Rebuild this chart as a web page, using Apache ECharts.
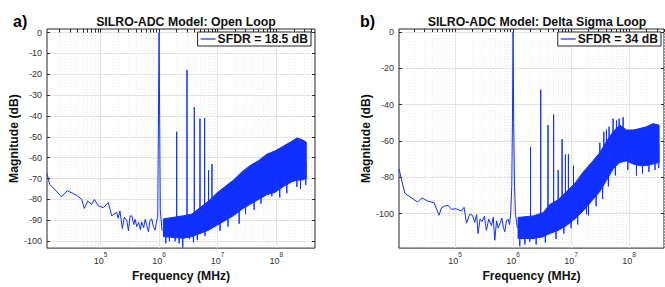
<!DOCTYPE html>
<html>
<head>
<meta charset="utf-8">
<title>SILRO-ADC spectra</title>
<script src="https://cdn.jsdelivr.net/npm/echarts@6/dist/echarts.min.js"></script>
<style>
html, body { margin: 0; padding: 0; background: #ffffff; }
#main { width: 665px; height: 287px; }
</style>
</head>
<body>
<div id="main"></div>
<script>
// ---- a) open loop ----
const aFreqRange = [12200, 4.6e8];
const aMagRange = [-103.3, 1.7];
const aMagTicks = [-100, -90, -80, -70, -60, -50, -40, -30, -20, -10, 0];
// low frequency trace + fundamental
const aLowFreq = [12200, 13550, 21700, 27000, 39200, 47700, 52900, 60400, 70800, 78400, 91700, 111600, 135900, 155300, 189200, 200000, 215000, 236000, 255000, 280600, 300000, 320000, 341500, 370000, 390000, 415600, 450000, 480000, 506000, 545000, 580000, 616000, 660000, 700000, 750000, 800000, 855000, 900000, 950000, 1000000, 1050000, 1125000];
const aLowMag = [-67.5, -72.7, -78.7, -75.8, -78, -80, -84.3, -80.8, -82.3, -80, -83, -83.9, -81.5, -87.8, -86.2, -89, -85.5, -94, -88.5, -90, -95, -88, -87.8, -92, -89.5, -93, -91, -94.5, -90.8, -93.5, -89.5, -92.4, -95.5, -90, -89.3, -93, -94.7, -91, -88, 0, -85, -95];
// dense noise floor (top / bottom edge)
const aBandFreq = [1.186e6, 2.6e6, 3.62e6, 5.02e6, 6.97e6, 9.68e6, 1.343e7, 1.862e7, 2.594e7, 3.597e7, 4.977e7, 6.934e7, 9.62e7, 1.334e8, 1.854e8, 2.26e8, 2.748e8, 3.26e8];
const aBandTop = [-89.3, -87.8, -87, -83.9, -80.8, -76.9, -73.8, -70.7, -66.8, -63.7, -61.4, -58.3, -56.7, -54.4, -52.1, -50.5, -51.3, -52.5];
const aBandBottom = [-97.8, -98.6, -97.8, -96.3, -94.7, -92.4, -90.1, -87.8, -84.7, -82.3, -80, -77.7, -76.5, -73.8, -71.5, -70.7, -70.7, -69.9];
// harmonics (up) and dips (down), drawn from a point inside the floor
const aSpikeFreq = [1.3e6, 1.5e6, 1.88e6, 2e6, 2.2e6, 2.54e6, 3e6, 3.3e6, 3.86e6, 4e6, 4.5e6, 5e6, 6e6, 6.1e6, 7e6, 8e6, 1.1e7, 1.5e7, 2.33e7, 3e7, 4.2e7, 5.5e7, 8.43e7, 1.15e8, 1.52e8, 2.26e8, 2.6e8, 3.2e8];
const aSpikeBase = [-93, -93, -93, -93, -93, -93, -93, -93, -94, -92, -92, -92, -91, -91, -90, -88, -86, -84, -82, -78, -75, -72, -68, -66, -64, -62, -62, -62];
const aSpikePeak = [-101, -100, -100, -47.5, -101, -103, -18, -99, -100.5, -35.8, -99.5, -41.3, -41, -97.5, -66, -63, -95, -93, -91.6, -87, -85, -82, -78.5, -79, -77, -74, -75, -73];

// ---- b) delta sigma loop ----
const bFreqRange = [10800, 4.0e8];
const bMagRange = [-119, 1.6];
const bMagTicks = [-100, -80, -60, -40, -20, 0];
const bLowFreq = [10800, 13580, 22500, 27000, 34200, 43400, 53000, 58300, 66400, 75700, 86700, 102800, 128800, 142900, 157300, 179200, 200000, 218600, 235000, 249300, 270000, 292300, 320000, 347800, 380000, 424300, 455000, 483500, 520000, 555000, 590000, 640000, 680000, 719500, 770000, 820000, 870000, 910000, 950000, 975000, 1000000, 1025000, 1060000, 1100000, 1150000, 1190000];
const bLowMag = [-75.4, -88.8, -93.6, -91.4, -93.2, -94, -100.9, -96.8, -95.9, -95.4, -97.7, -97.3, -98.6, -96.5, -105.3, -100.4, -101, -104.8, -100.5, -111, -103, -104.3, -101.5, -109.3, -103, -106.6, -102, -114.7, -104, -108, -105.7, -102.5, -107.5, -110, -104, -103, -106, -100, -85, -50, 0, -50, -85, -100, -105, -108];
const bBandFreq = [1.219e6, 2.213e6, 3.289e6, 4.295e6, 5.97e6, 8.34e6, 1.159e7, 1.611e7, 2.249e7, 3.126e7, 4.074e7, 5.297e7, 6.918e7, 9.016e7, 1.172e8, 1.528e8, 1.995e8, 2.594e8, 3.289e8];
const bBandTop = [-102.1, -101.3, -99.5, -95, -92.4, -87.9, -83.4, -77.2, -71.9, -66.5, -60.3, -54.9, -51.3, -54, -54, -53.2, -52.2, -50.5, -51.3];
const bBandBottom = [-113.7, -113.7, -112.8, -111, -109.3, -106.6, -103, -98.6, -93.2, -87.9, -81.7, -75.4, -71.9, -71, -72.7, -73.6, -73.6, -72.7, -71.9];
const bSpikeFreq = [1.305e6, 1.6e6, 1.94e6, 2e6, 2.5e6, 3e6, 3.6e6, 4e6, 5e6, 5.5e6, 6e6, 7e6, 7.5e6, 8e6, 9e6, 1.0e7, 1.1e7, 1.3e7, 1.85e7, 2.0e7, 2.7e7, 3.13e7, 3.5e7, 3.67e7, 4.07e7, 4.4e7, 4.52e7, 5.3e7, 5.8e7, 6.06e7, 6.73e7, 7.89e7, 9.5e7, 1.34e8, 1.7e8, 2.2e8, 2.8e8, 3.24e8];
const bSpikeBase = [-108, -108, -108, -108, -108, -107, -107, -106, -105, -105, -103, -102, -102, -100, -99, -99, -97, -95, -92, -90, -85, -80, -78, -77, -75, -74, -73, -70, -69, -68, -66, -64, -64, -65, -65, -64, -63, -62];
const bSpikePeak = [-118, -117, -115.5, -63.3, -117, -31.8, -116, -51.3, -45.5, -114, -76, -59, -111, -67.4, -67.3, -108, -73.6, -106, -100.4, -101, -96, -61, -92, -55, -53.8, -85, -52.2, -47.8, -79, -48.7, -47.8, -47, -76, -79, -78, -77, -76, -75];

// shared x ticks
const freqMajor = [1e5, 1e6, 1e7, 1e8];
const decades = [1e4, 1e5, 1e6, 1e7, 1e8];
const minorSteps = [2, 3, 4, 5, 6, 7, 8, 9];

const BLUE = "#1030ff";
const FONT = "Liberation Sans";

const freqMinor = [];
decades.forEach(d => minorSteps.forEach(m => freqMinor.push(d * m)));

function pairs(xs, ys) {
  return xs.map((x, i) => [x, ys[i]]);
}
function spikes(freq, base, peak) {
  let out = [];
  freq.forEach((f, i) => {
    out.push([f, base[i]], [f, peak[i]], [f, base[i]]);
  });
  return out;
}

const grids = [
  { left: 47, top: 29, width: 268, height: 226 },
  { left: 399, top: 29, width: 265, height: 226 }
];

function xAxes(k, range) {
  return [
    {
      type: "log", gridIndex: k, min: range[0], max: range[1],
      axisLine: { show: false },
      axisTick: { inside: true, length: 3, customValues: freqMajor, lineStyle: { color: "#262626" } },
      axisLabel: {
        customValues: freqMajor, margin: 3,
        formatter: v => "{b|10}{s|" + Math.round(Math.log10(v)) + "}",
        rich: {
          b: { fontSize: 9, color: "#333", fontFamily: FONT, verticalAlign: "bottom", lineHeight: 14 },
          s: { fontSize: 6.5, color: "#333", fontFamily: FONT, verticalAlign: "top", lineHeight: 8 }
        }
      },
      splitLine: { show: true, lineStyle: { color: "#e3e3e3", width: 1 } },
      name: "Frequency (MHz)", nameLocation: "middle", nameGap: 20,
      nameTextStyle: { fontSize: 12.2, fontWeight: "bold", color: "#111", fontFamily: FONT }
    },
    {
      // minor grid
      type: "log", gridIndex: k, min: range[0], max: range[1], position: "bottom",
      axisLine: { show: false }, axisLabel: { show: false },
      axisTick: { inside: true, length: 2, customValues: freqMinor, lineStyle: { color: "#262626" } },
      splitLine: { show: true, lineStyle: { color: "#e6e6e6", width: 1, type: [1, 2] } }
    },
    {
      type: "log", gridIndex: k, min: range[0], max: range[1], position: "top",
      axisLine: { show: false }, axisLabel: { show: false }, splitLine: { show: false },
      axisTick: { inside: true, length: 2, customValues: freqMajor.concat(freqMinor), lineStyle: { color: "#262626" } }
    }
  ];
}

function yAxes(k, range, ticks) {
  return [
    {
      type: "value", gridIndex: k, min: range[0], max: range[1],
      axisLine: { show: false },
      axisTick: { inside: true, length: 3, customValues: ticks, lineStyle: { color: "#262626" } },
      axisLabel: { customValues: ticks, margin: 5, fontSize: 9, color: "#333", fontFamily: FONT },
      splitLine: { show: true, lineStyle: { color: "#e3e3e3", width: 1 } },
      name: "Magnitude (dB)", nameLocation: "middle", nameGap: 19,
      nameTextStyle: { fontSize: 12.2, fontWeight: "bold", color: "#111", fontFamily: FONT }
    },
    {
      type: "value", gridIndex: k, min: range[0], max: range[1], position: "right",
      axisLine: { show: false }, axisLabel: { show: false }, splitLine: { show: false },
      axisTick: { inside: true, length: 3, customValues: ticks, lineStyle: { color: "#262626" } }
    }
  ];
}

function plotSeries(k, name, low, bandFreq, bandTop, bandBottom, spk) {
  const common = {
    type: "line", name: name, xAxisIndex: 3 * k, yAxisIndex: 2 * k,
    showSymbol: false, symbol: "none", silent: true,
    lineStyle: { color: BLUE, width: 1 }, itemStyle: { color: BLUE }
  };
  return [
    Object.assign({}, common, { data: low }),
    {
      // noise floor drawn as a filled band between its two edges
      type: "custom", name: name, xAxisIndex: 3 * k, yAxisIndex: 2 * k, silent: true,
      itemStyle: { color: BLUE },
      data: bandFreq.map((f, i) => [f, bandTop[i], bandBottom[i]]),
      encode: { x: 0, y: [1, 2] },
      renderItem: function (params, api) {
        if (params.dataIndex !== 0) return;
        let pts = [];
        for (let i = 0; i < bandFreq.length; i++) pts.push(api.coord([bandFreq[i], bandTop[i]]));
        for (let i = bandFreq.length - 1; i >= 0; i--) pts.push(api.coord([bandFreq[i], bandBottom[i]]));
        return {
          type: "polygon", shape: { points: pts },
          style: { fill: BLUE, stroke: BLUE, lineWidth: 1 }
        };
      }
    },
    Object.assign({}, common, { data: spk })
  ];
}

const aName = "SFDR = 18.5 dB";
const bName = "SFDR = 34 dB";

const chart = echarts.init(document.getElementById("main"), null, { renderer: "svg" });
chart.setOption({
  animation: false,
  textStyle: { fontFamily: FONT },
  title: [
    { text: "SILRO-ADC Model: Open Loop", left: 181, top: 11, textAlign: "center",
      textStyle: { fontSize: 12.3, fontWeight: "bold", color: "#111", fontFamily: FONT } },
    { text: "SILRO-ADC Model: Delta Sigma Loop", left: 532, top: 11, textAlign: "center",
      textStyle: { fontSize: 12.3, fontWeight: "bold", color: "#111", fontFamily: FONT } },
    { text: "a)", left: 8, top: 8, textStyle: { fontSize: 16, fontWeight: "bold", color: "#000", fontFamily: FONT } },
    { text: "b)", left: 355, top: 8, textStyle: { fontSize: 16, fontWeight: "bold", color: "#000", fontFamily: FONT } }
  ],
  legend: [
    { data: [aName], right: 354, top: 32, icon: "rect", itemWidth: 15, itemHeight: 1.2, itemGap: 3,
      padding: [1, 3, 1, 3], borderColor: "#262626", borderWidth: 1, backgroundColor: "#fff",
      textStyle: { fontSize: 12.2, fontWeight: "bold", color: "#111", fontFamily: FONT, lineHeight: 12, padding: [0, 0, 0, -3] } },
    { data: [bName], right: 4, top: 32, icon: "rect", itemWidth: 15, itemHeight: 1.2, itemGap: 3,
      padding: [1, 3, 1, 3], borderColor: "#262626", borderWidth: 1, backgroundColor: "#fff",
      textStyle: { fontSize: 12.2, fontWeight: "bold", color: "#111", fontFamily: FONT, lineHeight: 12, padding: [0, 0, 0, -3] } }
  ],
  grid: grids.map(g => Object.assign({ show: true, borderColor: "#262626", borderWidth: 1, backgroundColor: "transparent" }, g)),
  xAxis: xAxes(0, aFreqRange).concat(xAxes(1, bFreqRange)),
  yAxis: yAxes(0, aMagRange, aMagTicks).concat(yAxes(1, bMagRange, bMagTicks)),
  series: plotSeries(0, aName, pairs(aLowFreq, aLowMag), aBandFreq, aBandTop, aBandBottom,
      spikes(aSpikeFreq, aSpikeBase, aSpikePeak))
    .concat(plotSeries(1, bName, pairs(bLowFreq, bLowMag), bBandFreq, bBandTop, bBandBottom,
      spikes(bSpikeFreq, bSpikeBase, bSpikePeak)))
});
</script>
</body>
</html>
